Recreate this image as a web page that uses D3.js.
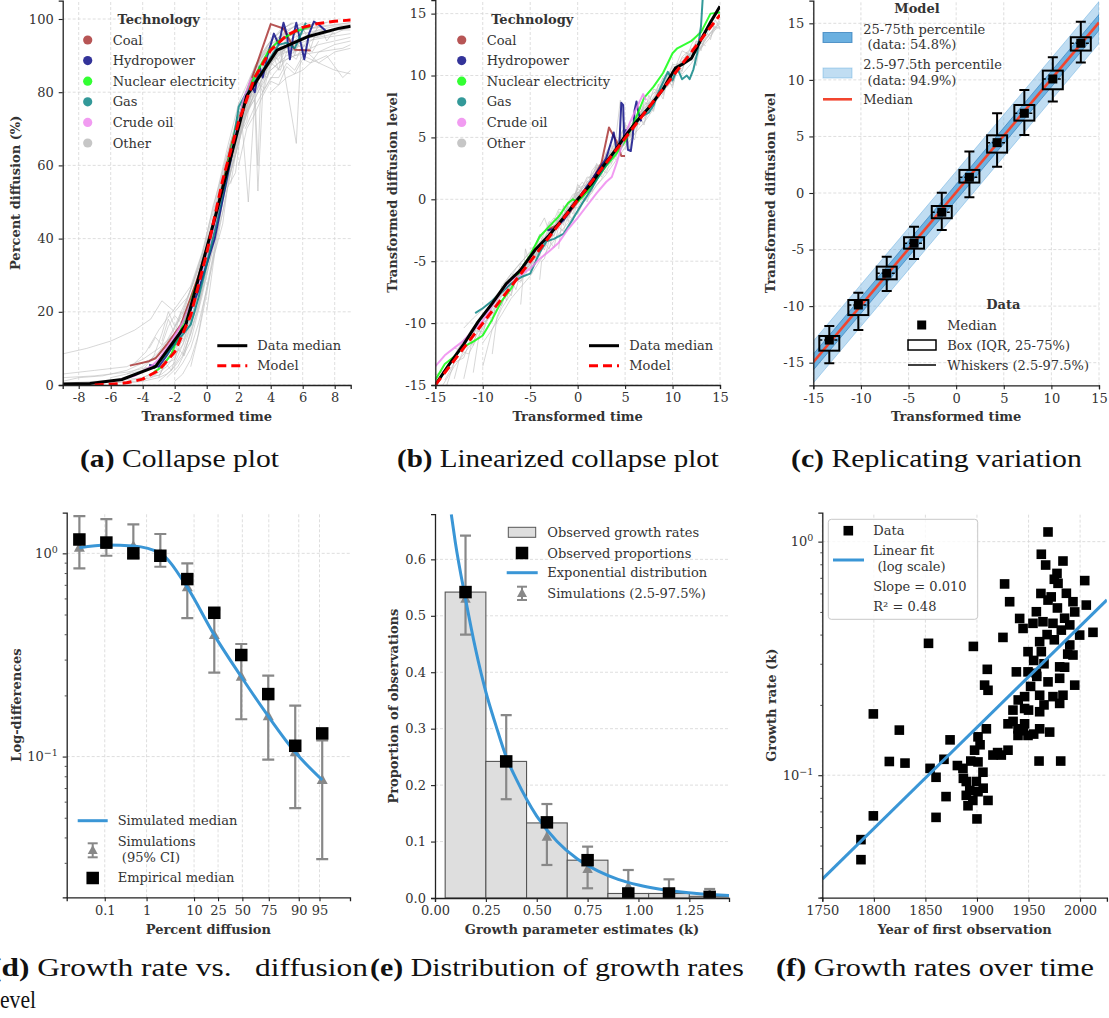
<!DOCTYPE html>
<html><head><meta charset="utf-8">
<script src="https://cdn.jsdelivr.net/npm/d3@7"></script>
<style>
body{margin:0;background:#fff;}
svg{display:block;}
</style></head><body>
<svg id="chart" width="1109" height="1018"></svg>
<script>
// ================= DATA =================
// ---- Panel (a): collapse plot ----
const aMedian = [[-9,0.3],[-7.3,0.4],[-5.3,1.5],[-3.2,5],[-1.3,16.5],[0.6,47],[2.5,79],[4.4,91.5],[6.4,95.3],[8.3,97.5],[9,98]];
const aModel = [[-7,0],[-6,0.2],[-5,0.6],[-4,1.6],[-3,4],[-2,9],[-1,19],[0,36],[1,56],[2,72],[3,84],[4,91.5],[5,95.5],[6,97.7],[7,98.8],[8,99.4],[9,99.7]];
const aCoal = [[-4.8,5.3],[-3.6,6.5],[-3.2,7.3],[-2.5,11],[-1.6,16.5],[-0.5,30],[0.5,45],[1.5,65],[2.5,80],[3.0,86],[4.0,98.6],[4.8,97.4],[5.5,91.6],[6.5,91.4]];
const aHydro = [[-3.6,5.5],[-3.0,5],[-2.5,8],[-1.5,15],[-0.5,26],[0.5,40],[1.2,55],[1.8,68],[2.4,79],[2.8,82],[3.0,80],[3.3,87],[3.5,84],[3.8,90],[4.2,96],[4.5,93],[4.8,99],[5.0,96],[5.2,89],[5.4,95],[5.6,99],[5.9,93],[6.1,89],[6.4,96],[6.7,99.3],[7.0,98.5],[7.5,96.5]];
const aNuclear = [[-3.3,3.5],[-2.8,5],[-2.2,8.5],[-1.2,20],[-0.3,32],[0.8,50],[1.8,70],[2.5,80],[3.2,86],[3.9,91.5],[4.5,94],[5.5,96.5],[6.5,98]];
const aGas = [[-3.3,4.5],[-2.2,10],[-1.0,16.5],[-0.5,24],[0.5,42],[1.5,62],[2.0,76],[2.5,80],[3.5,86],[4.5,93],[5.0,93.5],[5.5,92],[6.2,99]];
const aOil = [[-5.5,1.4],[-4.5,2.5],[-3.5,5],[-3.0,7],[-2.2,12],[-1.5,17],[-0.5,28],[0.5,44],[1.5,63],[2.3,78],[2.8,84]];
const aOther = [
 [[-9,8.5],[-7.5,10],[-6,12],[-4.5,15],[-3.5,18],[-2.8,23],[-2,20],[-1.2,24],[-0.5,32],[0.5,45],[1.5,62],[2.5,75],[3.5,84],[4.5,88],[5.5,90],[7,91],[8.5,92],[9,93]],
 [[-9,3],[-7,4],[-5,5],[-4,7],[-3,10],[-2,14],[-1,22],[0,36],[1,52],[2,68],[3,80],[4,88],[5,93],[6,95],[7,97],[8,96],[9,98]],
 [[-9,1],[-8,2],[-6.5,2.5],[-5,4],[-4,6],[-3,8],[-2.3,13],[-1.5,20],[-0.7,30],[0.2,42],[1,56],[2,73],[2.8,82],[3.6,89],[4.5,94],[5.5,97],[6.5,98.5],[7.5,99]],
 [[-9,0.5],[-7,1],[-5,1.5],[-4,2],[-3,4],[-2,9],[-1,18],[0,34],[0.8,48],[1.6,60],[2.5,74],[3.2,80],[4,86],[5,90],[6,92],[7,88],[8,86],[9,85]],
 [[-6,0.5],[-4.5,1],[-3.5,2],[-2.5,5],[-1.5,11],[-0.5,25],[0.5,43],[1.5,61],[2.5,77],[3.5,88],[4.5,95],[5.5,98],[6.5,99]],
 [[-5,3],[-4,5],[-3,9],[-2.5,12],[-2,16],[-1.5,19],[-1,26],[0,40],[1,58],[2,75],[3,86],[4,93],[5,97],[6,99]],
 [[-3.5,2],[-2.8,3],[-2,6],[-1.2,14],[-0.5,26],[0.3,40],[1.2,58],[2.2,72],[2.6,50],[3,78],[3.8,86],[4.5,90],[5.3,94],[6,92],[6.5,96],[7.5,97]],
 [[-4,4],[-3.3,8],[-2.8,14],[-2.4,20],[-2,16],[-1.4,22],[-0.8,28],[0,38],[1,55],[2,70],[3,82],[3.8,88],[4.6,92],[5.6,66],[5.9,92],[6.8,95],[8,97],[9,97]],
 [[-2.5,2],[-1.8,5],[-1,12],[-0.3,24],[0.5,40],[1.2,55],[1.9,68],[2.5,80],[3.2,88],[4,93],[5,96],[6,98],[7,99]],
 [[-4.5,6],[-3.8,9],[-3,15],[-2.5,18],[-1.8,22],[-1,27],[-0.3,36],[0.5,50],[1.3,65],[2,77],[2.8,85],[3.5,90],[4.3,93],[5,95],[6,97],[7.5,98],[9,99]],
 [[-2,3],[-1.5,6],[-1,10],[-0.5,17],[0,26],[0.6,38],[1.2,52],[1.8,64],[2.4,74],[3.1,85],[3.7,90],[4.5,95],[5.5,98]],
 [[-6,2],[-5,3],[-4,4],[-3.2,6],[-2.6,9],[-2,13],[-1.2,19],[-0.2,33],[0.7,50],[1.5,63],[2.2,73],[3,78],[3.2,53],[3.5,80],[4.2,85],[5,89],[6,91],[7,93],[8,94],[9,95]],
 [[-9,2],[-7,2.5],[-5,3.5],[-3.5,5],[-2.8,7],[-2,11],[-1.2,17],[-0.5,28],[0.2,38],[1,53],[1.8,66],[2.5,77],[3.3,84],[4,89],[5,92],[6.2,94],[7.5,95],[9,96]],
 [[-3,1],[-2.2,4],[-1.5,9],[-0.8,19],[0,33],[0.8,49],[1.6,64],[2.4,76],[3.2,86],[4,92],[4.8,95],[5.8,97.5],[6.8,98.5],[8,99.5]],
 [[-1.5,8],[-1,14],[-0.4,24],[0.2,36],[0.9,50],[1.6,65],[2.3,78],[3,87],[3.8,93],[4.6,97],[5.4,99]],
 [[4,80],[5,84],[6,86],[6.5,88],[7.5,90],[8.5,84],[9,86]],
 [[-9,0.2],[-7,0.5],[-5,1],[-4,2],[-3.2,3.5],[-2.4,7],[-1.6,13],[-0.8,23],[0,37],[0.8,51],[1.6,66],[2.4,78],[3.2,87],[4,92],[5,95],[6,97],[7,98],[8,98.5],[9,99]],
 [[-2.2,10],[-1.6,14],[-1,20],[-0.4,29],[0.3,40],[1,54],[1.5,62],[2.1,74],[2.7,82],[3.3,89],[4,94],[4.7,97],[5.3,99]],
 [[-3,2],[-2.6,6],[-2.2,4],[-1.8,10],[-1.4,8],[-1,15],[-0.6,20],[-0.2,28],[0.2,35],[0.6,46],[1,52],[1.4,60],[1.8,67],[2.2,72],[2.6,78],[3,80],[3.4,85],[3.8,84],[4.2,90],[4.6,88],[5,93],[5.5,91],[6,95]],
 [[-4,1],[-3.5,3],[-3,2.5],[-2.5,6],[-2,7],[-1.5,13],[-1,17],[-0.5,22],[0,30],[0.5,39],[1,47],[1.5,58],[2,66],[2.5,75],[3,82],[3.5,86],[4,89],[4.5,92],[5,94],[6,96],[7,97],[8,98],[9,98.5]],
 [[-2.8,12],[-2.4,18],[-2,14],[-1.6,20],[-1.2,18],[-0.8,26],[-0.4,31],[0,39],[0.4,45],[0.8,53],[1.2,58],[1.6,67],[2,71],[2.4,78],[2.8,81],[3.2,86],[3.6,85],[4,90],[4.4,93],[5,92],[5.5,96],[6,94],[6.5,97]],
 [[-1,5],[-0.6,12],[-0.2,22],[0.2,31],[0.6,40],[1,50],[1.4,57],[1.8,63],[2.2,70],[2.6,76],[3,79],[3.4,83],[3.8,87],[4.2,89],[4.6,92],[5,91],[5.5,94],[6,97],[6.5,95],[7,98]],
 [[-3.6,10],[-3.2,13],[-2.8,11],[-2.4,16],[-2,19],[-1.6,17],[-1.2,22],[-0.8,25],[-0.4,33],[0,41],[0.4,49],[0.8,55],[1.2,62],[1.6,68],[2,74],[2.5,79],[3,81],[3.5,87],[4,88],[4.5,91],[5,93],[6,95],[7,96],[8,97],[9,97.5]],
 [[1.5,55],[2,68],[2.5,72],[3,85],[3.5,80],[4,92],[4.5,86],[5,96],[5.5,90],[6,98],[6.5,92],[7,99],[7.5,94],[8,97]],
 [[2,60],[2.5,70],[3,74],[3.5,79],[4,83],[4.5,82],[5,87],[5.5,85],[6,89],[6.5,88],[7,91],[8,93],[9,94]],
 [[-2,1],[-1.5,3],[-1,7],[-0.5,14],[0,25],[0.5,37],[1,50],[1.5,60],[2,70],[2.5,79],[3,86],[3.5,90],[4,94],[4.5,96],[5,98],[5.5,99]],
 [[-5,0.5],[-4,1],[-3,2],[-2.5,3],[-2,5],[-1.5,8],[-1,14],[-0.5,21],[0,31],[0.5,43],[1,55],[1.5,64],[2,73],[2.5,81],[3,87],[3.5,91],[4,94],[5,96],[6,97],[7,98]],
 [[-3,5],[-2.5,7],[-2,10],[-1.5,12],[-1,17],[-0.5,24],[0,33],[0.5,42],[1,51],[1.5,59],[2,69],[2.5,76],[3,83],[3.5,87],[4,90],[4.5,89],[5,93],[5.5,92],[6,95],[7,95],[8,96]],
 [[0,20],[0.5,36],[1,44],[1.3,54],[1.8,58],[2.2,72],[2.7,76],[3.1,83],[3.6,81],[4,88],[4.6,86],[5,91],[5.6,89],[6,93],[6.6,91],[7,94]],
 [[-1.5,14],[-1,18],[-0.5,25],[0,34],[0.5,48],[1,57],[1.5,66],[2,74],[2.5,78],[3,82],[3.2,60],[3.4,84],[4,88],[4.5,90],[5,91],[6,93]],
 [[2.4,70],[3,76],[3.5,80],[4,84],[4.5,84],[5,88],[5.5,86],[6,90],[7,88],[8,91],[9,92]]
];
const aXTicks = [-8,-6,-4,-2,0,2,4,6,8];
const aYTicks = [0,20,40,60,80,100];

// ---- Panel (b): linearized collapse plot ----
const bMedian = [[-15,-15],[-13.5,-13.3],[-12,-11.7],[-10.5,-9.9],[-9,-8.4],[-7.5,-6.8],[-6,-5.7],[-4.5,-4.1],[-3,-2.9],[-1.5,-1.5],[0,0],[1.5,1.3],[2.8,2.8],[4.0,4.0],[5,5.1],[6,6.1],[7.5,7.4],[9,8.9],[10.3,10.6],[11,10.9],[12,11.4],[13,12.9],[14,14.3],[15,15.6]];
const bModel = [[-15,-15],[15,14.9]];
const bCoal = [[-3.0,-2.4],[-2.2,-2.1],[-1,-1.2],[0.5,0.3],[1.5,1.5],[2.5,2.9],[3.3,5.8],[4.1,4.7],[4.6,3.5],[5.0,3.5]];
const bHydro = [[-3.2,-2.5],[-2.5,-2.4],[-1.5,-1.7],[0,0],[1.5,1.6],[3,3.3],[3.6,4.8],[3.8,5.4],[4.1,4.0],[4.4,4.5],[4.6,7.8],[4.8,7.6],[4.9,4.8],[5.1,5.6],[5.3,4.0],[5.6,3.9],[5.8,5.0],[6.0,7.2],[6.2,7.9],[6.4,7.0],[6.7,6.3]];
const bNuclear = [[-15,-14.6],[-14,-13.3],[-13,-12.7],[-12,-11.9],[-11,-11.5],[-10,-11],[-9,-9.7],[-8,-8.2],[-7,-7.2],[-6,-5.7],[-5,-4.5],[-4,-3.0],[-3,-2.2],[-2,-1.4],[-1,-0.3],[-0.5,0],[0,-0.2],[1,0.6],[2,1.6],[3,2.7],[4,3.6],[5,4.7],[6,6.3],[7,8.2],[8,9.1],[9,10.2],[10,11.8],[10.5,12.2],[12,12.8],[13,13.5],[14,15],[15,15.1]];
const bGas = [[-10.8,-9.2],[-10,-8.8],[-9,-8.2],[-8,-7.5],[-7,-6.8],[-6,-6.3],[-5,-6.0],[-4,-4.3],[-3.3,-3.4],[-2.5,-3.2],[-1.5,-2.8],[-0.5,-1.6],[0.5,-0.3],[1.5,0.9],[2.5,2.2],[3.5,3.3],[4.5,4.5],[5.5,5.6],[6.5,6.6],[7.5,7.0],[8.0,7.6],[8.5,8.6],[9.2,9.8],[9.5,10.3],[10,9.6],[10.5,10.6],[11,9.7],[11.5,10.0],[11.8,9.7],[12.2,10.5],[12.6,11.8],[13,14],[13.2,16.5]];
const bOil = [[-15,-13.5],[-14,-12.6],[-13,-12],[-12,-11.4],[-11,-10.6],[-10,-9.8],[-9,-8.6],[-8,-7.4],[-7,-6.5],[-6,-6.1],[-5,-5.6],[-4,-4.8],[-3,-4.2],[-2,-3.5],[-1,-2.4],[0,-1.5],[1,-0.5],[2,0.5],[3,1.4],[3.6,1.8],[4.1,2.9],[4.7,4.5],[5.5,6.2],[6.1,7.2],[6.9,8.5],[7.2,8.0]];
const bOther = [
 [[-15,-16],[-13,-13.5],[-11,-11.5],[-9,-8.5],[-7,-6.8],[-5,-5.3],[-3,-2.5],[-1,-0.8],[1,1.4],[3,2.6],[5,5.2],[7,6.8],[9,9.3],[11,10.6],[13,13.2],[15,15.5]],
 [[-14,-15.5],[-12.5,-12],[-11,-10.3],[-9.5,-9.8],[-8,-7.5],[-6.5,-5.6],[-5,-4.2],[-3.5,-3.8],[-2,-1.5],[-0.5,0.4],[1,0.8],[2.5,2.9],[4,3.5],[5.5,6.2],[7,7.4],[8.5,8.1],[10,10.3],[11.5,11.6],[13,12.3],[14.5,14.0]],
 [[-13,-12],[-11.5,-12.5],[-10,-10.4],[-8.5,-8.0],[-7,-7.4],[-5.5,-5.0],[-4,-3.4],[-2.5,-2.9],[-1,-0.5],[0.5,0.9],[2,1.6],[3.5,3.9],[5,4.4],[6.5,7.0],[8,7.6],[9.5,9.7],[11,11.4],[12.5,11.8],[14,13.5],[15,14.2]],
 [[-12,-14.5],[-11,-11],[-10,-9.2],[-9,-9.6],[-8,-7],[-7,-6],[-6,-6.4],[-5,-4.6],[-4,-3.6],[-3,-1.8],[-2,-2.4],[-1,-0.4],[0,0.8],[1,0.5],[2,2.4],[3,3.6],[4,3.9],[5,6.0],[6,5.6],[7,7.5],[8,8.6],[9,8.8],[10,10.8],[11,10.4],[12,12.5],[13,13.8],[14,13.2],[15,14.6]],
 [[-10,-13.5],[-9,-10.5],[-8,-8.8],[-7,-7.6],[-6,-5.2],[-5,-5.5],[-4,-4.1],[-3,-3.4],[-2,-1.6],[-1,-1.2],[0,0.2],[1,1.8],[2,1.7],[3,3.1],[4,4.6],[5,4.7],[6,6.5],[7,7.0],[8,8.3],[9,9.5],[10,9.8]],
 [[-9,-12.5],[-8.5,-9.5],[-7.5,-7.5],[-6.5,-6.2],[-5.5,-5.8],[-4.5,-4.6],[-3.5,-3.0],[-2.5,-2.2],[-1.5,-1.9],[-0.5,-0.2],[0.5,0.4],[1.5,1.9],[2.5,2.3],[3.5,3.6],[4.5,5.0],[5.5,5.4],[6.5,6.9],[7.5,7.2],[8.5,8.7],[9.5,9.1],[10.5,10.6],[11.5,11.2],[12.5,12.8],[13.5,12.4]],
 [[-6,-8.5],[-5.5,-4.0],[-5,-5.5],[-4,-3.0],[-3,-4.0],[-2,-1.0],[-1,-1.5],[0,0.6],[1,-0.2],[2,2.0],[3,3.2],[4,4.8],[4.5,8.0],[5,5.3],[6,5.8],[7,7.7],[8,7.8],[9,9.2]],
 [[-4,-2.2],[-3.5,-1.5],[-3,-2.6],[-2,-0.8],[-1,-1.0],[0,0.9],[1,1.2],[2,2.7],[3,2.9],[4,4.2],[5,5.5],[6,6.4],[7,6.5],[8,8.9],[9,8.6],[10,10.1],[11,12.0],[12,11.6]],
 [[-15,-14.2],[-14,-13.8],[-13,-12.6],[-12,-11.3],[-11,-10.9],[-10,-9.4],[-9,-9.1],[-8,-7.8],[-7,-6.6],[-6,-6.0],[-5,-4.9],[-4,-4.2],[-3,-2.7],[-2,-2.1],[-1,-0.9],[0,-0.4],[1,1.0],[2,2.2],[3,3.4],[4,4.1],[5,4.9],[6,6.2],[7,7.1],[8,8.0],[9,8.8],[10,9.6],[11,11.0],[12,11.8],[13,12.6],[14,13.4],[15,14.0]],
 [[8,8.5],[9,9.8],[10,9.2],[11,11.5],[12,12.2],[12.5,10.8],[13,12.9],[14,14.5],[15,15.2]],
 [[-2,-4],[-1.5,-0.5],[-1,-1.8],[0,1.2],[1,0.2],[2,2.9],[3,2.1],[4,4.4],[5,5.9],[6,5.2],[7,7.9],[8,7.3],[9,9.9],[10,10.4]],
 [[-11,-14],[-10.5,-11.5],[-10,-10],[-9,-9.3],[-8,-8.4],[-7,-6.3],[-6,-6.7],[-5,-5.0],[-4,-3.8],[-3,-3.2],[-2,-1.9],[-1,-0.6],[0,-0.7],[1,0.7],[2,1.9]],
 [[3,3.8],[4,3.2],[5,6.2],[5.5,4.0],[6,6.8],[7,6.2],[8,8.2],[9,9.0],[10,10.9],[11,10.8],[12,12.0],[13,12.2],[14,14.0],[15,13.8]],
 [[-14,-14.6],[-13,-13.2],[-12,-12.8],[-11,-10.6],[-10,-10.7],[-9,-8.7],[-8,-8.2],[-7,-7.0],[-6,-5.5],[-5,-5.2],[-4,-3.9],[-3,-3.1],[-2,-1.7],[-1,-1.4],[0,0.1],[1,0.9],[2,2.3],[3,2.8],[4,4.0],[5,5.2],[6,5.9],[7,7.3],[8,8.1],[9,9.4],[10,9.9],[11,11.2]],
 [[-8,-7],[-7.5,-8.2],[-7,-6.5],[-6.5,-7.3],[-6,-5.8],[-5.5,-6.2],[-5,-4.6],[-4.5,-5.3],[-4,-3.5],[-3.5,-4.1],[-3,-2.6],[-2.5,-3.0],[-2,-1.4],[-1.5,-2.1],[-1,-0.6],[-0.5,-1.2],[0,0.4],[0.5,0.0],[1,1.5],[1.5,0.9],[2,2.6],[2.5,2.0],[3,3.7],[3.5,3.1],[4,4.6],[4.5,4.0],[5,5.7],[5.5,5.0],[6,6.5],[6.5,6.0],[7,7.6]],
 [[-13,-14.5],[-12.5,-13],[-12,-12.2],[-11.5,-11],[-11,-11.8],[-10.5,-10.4],[-10,-11],[-9.5,-9.3],[-9,-9.9],[-8.5,-8.1],[-8,-8.6],[-7.5,-7.3],[-7,-7.8],[-6.5,-6.1],[-6,-6.6],[-5.5,-5.2],[-5,-5.8],[-4.5,-4.2],[-4,-4.6],[-3.5,-3.2]],
 [[-5,-4],[-4.5,-3.8],[-4,-2.8],[-3.5,-3.3],[-3,-2.0],[-2.5,-1.5],[-2,-1.9],[-1.5,-0.7],[-1,-0.2],[-0.5,-0.8],[0,0.9],[0.5,1.4],[1,0.8],[1.5,2.3],[2,2.8],[2.5,2.2],[3,3.8],[3.5,4.4],[4,3.7],[4.5,5.3],[5,5.8],[5.5,5.1],[6,6.7]],
 [[0,-1.2],[0.5,-0.4],[1,0.1],[1.5,0.5],[2,1.2],[2.5,1.6],[3,2.4],[3.5,2.8],[4,3.5],[4.5,3.9],[5,4.6],[5.5,5.0],[6,5.8],[6.5,6.3],[7,6.9],[7.5,7.5],[8,7.9],[8.5,8.4],[9,9.0],[9.5,9.4],[10,10.1]],
 [[-4,-6.5],[-3.8,-5],[-3.5,-4.8],[-3,-3.3],[-2.5,-3.9],[-2,-2.2],[-1.5,-2.6],[-1,-1.2],[-0.5,-1.7],[0,0],[0.5,-0.4],[1,1.1],[1.5,0.6],[2,2.2],[2.5,1.8],[3,3.4],[3.5,2.9],[4,4.3],[4.5,4.1],[5,5.4]],
 [[6,6.2],[6.5,7.5],[7,6.8],[7.5,8.4],[8,7.6],[8.5,9.3],[9,8.4],[9.5,10.2],[10,9.4],[10.5,11],[11,10.3],[11.5,11.9],[12,11.2],[12.5,12.8],[13,12.0],[13.5,13.6],[14,12.9],[14.5,14.5],[15,13.8]],
 [[5,4.0],[5.5,5.4],[6,4.8],[6.5,6.6],[7,6.0],[7.5,7.9],[8,7.1],[8.5,8.8],[9,8.1],[9.5,9.8],[10,9.0],[10.5,10.8],[11,10.1],[12,11.0],[13,12.2],[14,13.1],[15,14.4]],
 [[-12,-10.4],[-11,-9.6],[-10,-8.9],[-9,-8.1],[-8,-7.2],[-7,-6.0],[-6,-5.1],[-5,-4.3],[-4,-3.2],[-3,-2.1],[-2,-1.3],[-1,-0.3],[0,0.5],[1,1.6],[2,2.5],[3,3.4]],
 [[-10,-11.6],[-9,-10.5],[-8,-9.3],[-7,-8.0],[-6,-7.1],[-5,-6.2],[-4,-5.0],[-3,-3.9],[-2,-2.8],[-1,-1.9],[0,-0.9],[1,0.2],[2,1.1],[3,2.0],[4,3.1],[5,4.2],[6,5.3],[7,6.2],[8,7.3]]
];
const bTicks = [-15,-10,-5,0,5,10,15];

// ---- Panel (c): replicating variation ----
const cX   = [-13.32,-10.27,-7.29,-4.42,-1.51,1.39,4.30,7.16,10.15,13.09];
const cMed = [-13.0,-9.9,-7.1,-4.44,-1.7,1.39,4.45,7.05,10.08,13.24];
const cQ1  = [-13.94,-10.79,-7.63,-4.92,-2.23,0.92,3.57,6.40,9.17,12.59];
const cQ3  = [-12.64,-9.46,-6.51,-3.91,-1.15,2.04,5.1,7.78,10.82,13.77];
const cLo  = [-15.05,-12.11,-8.66,-5.83,-3.27,-0.38,2.33,5.13,8.08,11.53];
const cHi  = [-11.76,-8.81,-5.63,-2.98,0.03,3.66,7.05,9.11,12.0,15.15];
const cModelX   = [-15,15];
const cModelMed = [-14.95,15.08];
const cModelLo50 = [-15.65,14.38], cModelHi50 = [-14.25,15.78];
const cModelLo95 = [-16.8,13.23],  cModelHi95 = [-13.1,16.93];

// ---- Panel (d): growth rate vs diffusion level ----
const dBin = [0,1,2,3,4,5,6,7,8,9];
const dEmpMedian = [1.17,1.13,1.0,0.973,0.747,0.51,0.316,0.203,0.113,0.130];
const dSimMedian = [1.065,1.098,1.086,1.0,0.68,0.396,0.247,0.158,0.105,0.0767];
const dSimLow  = [0.844,0.973,0.95,0.859,0.48,0.259,0.1526,0.0966,0.0557,0.0313];
const dSimHigh = [1.525,1.475,1.39,1.245,0.893,0.53,0.358,0.25,0.178,0.12];
const dTickPos = [0.94,2.49,4.25,5.14,6.04,7.02,8.13,8.90];
const dTickLab = ['0.1','1','10','25','50','75','90','95'];

// ---- Panel (e): distribution of growth rates ----
const eBinStart = [0.05,0.25,0.45,0.65,0.85,1.05,1.25];
const eBinEnd   = [0.25,0.45,0.65,0.85,1.05,1.25,1.45];
const eBinMid   = [0.15,0.35,0.55,0.75,0.95,1.15,1.35];
const eBar  = [0.542,0.242,0.133,0.067,0.008,0.008,0.003];
const eObs  = [0.542,0.242,0.134,0.067,0.008,0.008,0.002];
const eSim  = [0.53,0.24,0.108,0.051,0.02,0.01,0.005];
const eSimLow  = [0.4665,0.175,0.0585,0.0172,0,0,0];
const eSimHigh = [0.642,0.324,0.1665,0.091,0.0496,0.0331,0.016];
const eExpX = [0.08,0.1,0.15,0.2,0.25,0.3,0.35,0.4,0.5,0.6,0.7,0.8,0.9,1.0,1.1,1.2,1.3,1.45];
const eExpY = [0.68,0.63,0.53,0.44,0.365,0.305,0.25,0.21,0.145,0.10,0.069,0.048,0.033,0.023,0.016,0.011,0.0075,0.0043];
const eXTicks = [0,0.25,0.5,0.75,1.0,1.25];
const eYTicks = [0,0.1,0.2,0.3,0.4,0.5,0.6];

// ---- Panel (f): growth rates over time ----
const fYear = [1853,1896.5,1799.5,1824.7,1815,1830.2,1873.9,1868,1854.5,1860.3,1881,1886.8,1870,1860.3,1799.5,1787.5,1787.5,
 1968.9,1962.4,1966.6,1983.4,1977.6,1926.8,2004.5,1978.6,1986.7,1968.9,1931.7,1993.1,2006,1957.6,1994.8,1941.4,1964,1973.7,1944.7,1954.3,1981.8,1999.6,1925.2,2012.5,1960.8,1990,1949.5,1962.4,1993.1,1980.2,1910,1938.2,1949.5,1957.6,1968.9,1980.2,1907.4,1910.7,1994.8,1946.2,1960.8,1973.7,1983.4,1980.2,1960.8,1934.9,1946.2,1930.1,1939.8,1946.2,1939.8,1949.5,1960.8,1970.5,1909.1,1901,1915.5,1930.1,1923.6,1897.7,1901,1905.8,1886.4,1889.6,1899.4,1889.6,1901,1910.7,1891.3,1900,1960.2,1981.2,
 1955,1965,1975,1985,1990,1972,1978,1988,1952,1965,1940,1950,1935,1945,1955,1920,1894,1903,1893,1896,1906,1962,1975,1968,1985,1958];
const fK = [0.367,0.356,0.183,0.156,0.1145,0.1127,0.1417,0.117,0.107,0.098,0.110,0.097,0.081,0.066,0.067,0.053,0.0435,
 1.10,0.883,0.794,0.826,0.731,0.659,0.681,0.663,0.601,0.562,0.553,0.553,0.535,0.501,0.50,0.469,0.454,0.447,0.425,0.447,0.418,0.398,0.389,0.409,0.373,0.361,0.338,0.338,0.327,0.291,0.284,0.277,0.277,0.273,0.251,0.26,0.243,0.231,0.243,0.217,0.22,0.217,0.22,0.203,0.187,0.19,0.193,0.166,0.158,0.166,0.148,0.148,0.158,0.153,0.158,0.146,0.122,0.128,0.122,0.128,0.114,0.103,0.107,0.094,0.094,0.082,0.085,0.078,0.074,0.065,0.115,0.115,
 0.31,0.30,0.38,0.47,0.44,0.58,0.52,0.33,0.24,0.20,0.21,0.19,0.17,0.155,0.15,0.125,0.115,0.135,0.086,0.078,0.088,0.60,0.69,0.40,0.29,0.265];
const fFitYear = [1750,2026];
const fFitK = [0.0359,0.563];
const fXTicks = [1750,1800,1850,1900,1950,2000];

// ================= DRAWING =================
const svg = d3.select('#chart');
const FONT = '"DejaVu Serif", serif';
const CAPFONT = '"Liberation Serif", "Times New Roman", serif';
const GRID = '#d6d6d6';
const TXT = '#333';
const BLUE = '#3a96d6';
const GREYBAR = '#888';
const techColors = {Coal:'#a52a2a', Hydropower:'#000080', 'Nuclear electricity':'#00ff00', Gas:'#008080', 'Crude oil':'#ee82ee', Other:'#c0c0c0'};
let clipId = 0;

function panel(x, y) {
  const g = svg.append('g');
  const [x0,x1] = x.range(), [y0,y1] = y.range();
  const id = 'clip' + (clipId++);
  g.append('clipPath').attr('id', id).append('rect')
    .attr('x', x0).attr('y', Math.min(y0,y1)).attr('width', x1-x0).attr('height', Math.abs(y0-y1));
  const grid = g.append('g');
  const data = g.append('g').attr('clip-path', `url(#${id})`);
  const over = g.append('g');
  return {g, grid, data, over, x, y};
}
function gridLines(p, xs, ys) {
  const [x0,x1] = p.x.range(), [y0,y1] = p.y.range();
  p.grid.selectAll(null).data(xs).join('line')
    .attr('x1', d=>p.x(d)).attr('x2', d=>p.x(d)).attr('y1', y0).attr('y2', y1)
    .attr('stroke', GRID).attr('stroke-width', 0.8).attr('stroke-dasharray', '3,2');
  p.grid.selectAll(null).data(ys).join('line')
    .attr('y1', d=>p.y(d)).attr('y2', d=>p.y(d)).attr('x1', x0).attr('x2', x1)
    .attr('stroke', GRID).attr('stroke-width', 0.8).attr('stroke-dasharray', '3,2');
}
function styleAxis(a) {
  a.select('.domain').attr('stroke', '#222').attr('stroke-width', 1.3);
  a.selectAll('.tick line').attr('stroke', '#222').attr('stroke-width', 1.1);
  a.selectAll('.tick text').attr('font-family', FONT).attr('font-size', 13).attr('fill', TXT);
}
function axes(p, o) {
  const [x0] = p.x.range(), [y0] = p.y.range();
  const ax = p.over.append('g').attr('transform', `translate(0,${y0})`)
    .call(d3.axisBottom(p.x).tickValues(o.xt).tickFormat(o.xf || (d=>String(d))).tickSizeOuter(0).tickSize(4).tickPadding(4));
  const ay = p.over.append('g').attr('transform', `translate(${x0},0)`)
    .call(d3.axisLeft(p.y).tickValues(o.yt).tickFormat(o.yf || (d=>String(d))).tickSizeOuter(0).tickSize(4).tickPadding(5));
  styleAxis(ax); styleAxis(ay);
  if (o.yMinor) {
    const am = p.over.append('g').attr('transform', `translate(${x0},0)`)
      .call(d3.axisLeft(p.y).tickValues(o.yMinor).tickFormat('').tickSizeOuter(0).tickSize(2));
    am.select('.domain').remove();
    am.selectAll('.tick line').attr('stroke', '#222').attr('stroke-width', 0.8);
  }
  if (o.logLabels) {
    ay.selectAll('.tick text').each(function(d) {
      const e = Math.round(Math.log10(d));
      const t = d3.select(this);
      t.text('10');
      t.append('tspan').attr('dy', '-0.55em').attr('font-size', 9.5).text(e === 0 ? '0' : '\u2212' + Math.abs(e));
    });
  }
  const [xa, xb] = p.x.range(), [ya, yb] = p.y.range();
  p.over.append('text').attr('x', (xa+xb)/2).attr('y', o.xlabY)
    .attr('text-anchor', 'middle').attr('dominant-baseline', 'central')
    .attr('font-family', FONT).attr('font-weight', 'bold').attr('font-size', 13).attr('fill', TXT).text(o.xlab);
  p.over.append('text').attr('transform', `translate(${o.ylabX},${(ya+yb)/2}) rotate(-90)`)
    .attr('text-anchor', 'middle').attr('dominant-baseline', 'central')
    .attr('font-family', FONT).attr('font-weight', 'bold').attr('font-size', 13).attr('fill', TXT).text(o.ylab);
}
function txt(g, x, y, s, opt={}) {
  return g.append('text').attr('x', x).attr('y', y).attr('dominant-baseline', 'central')
    .attr('font-family', FONT).attr('font-size', opt.size || 13).attr('fill', opt.fill || TXT)
    .attr('font-weight', opt.bold ? 'bold' : null).attr('text-anchor', opt.anchor || 'start')
    .attr('xml:space', 'preserve').text(s);
}
function polyline(p, pts, stroke, w, opt={}) {
  const line = d3.line().x(d=>p.x(d[0])).y(d=>p.y(d[1])).curve(opt.curve || d3.curveLinear);
  return p.data.append('path').attr('d', line(pts)).attr('fill', 'none')
    .attr('stroke', stroke).attr('stroke-width', w).attr('stroke-opacity', opt.op == null ? 1 : opt.op)
    .attr('stroke-dasharray', opt.dash || null).attr('stroke-linejoin', 'round');
}
function techLegend(p, cx, tx, titleX) {
  txt(p.over, titleX, 19.3, 'Technology', {bold:true, anchor:'middle'});
  Object.keys(techColors).forEach((k, i) => {
    const yy = 40 + i * 20.6;
    p.over.append('circle').attr('cx', cx).attr('cy', yy).attr('r', 4.6).attr('fill', techColors[k]).attr('fill-opacity', k === 'Other' ? 0.9 : 0.8);
    txt(p.over, tx, yy, k);
  });
}
function medianLegend(p, lx, tx) {
  p.over.append('line').attr('x1', lx).attr('x2', lx+30).attr('y1', 345.7).attr('y2', 345.7).attr('stroke', '#000').attr('stroke-width', 3);
  p.over.append('line').attr('x1', lx).attr('x2', lx+30).attr('y1', 365.7).attr('y2', 365.7).attr('stroke', '#ff0000').attr('stroke-width', 3).attr('stroke-dasharray', '9,5');
  txt(p.over, tx, 345.7, 'Data median');
  txt(p.over, tx, 365.7, 'Model');
}

// ---------- (a) ----------
{
  const x = d3.scaleLinear().domain([-9, 9]).range([62.7, 350.7]);
  const y = d3.scaleLinear().domain([0, 105]).range([385, 0.7]);
  const p = panel(x, y);
  gridLines(p, aXTicks, aYTicks);
  aOther.forEach(l => polyline(p, l, '#bdbdbd', 1, {op:0.6}));
  polyline(p, aCoal, techColors.Coal, 2, {op:0.8});
  polyline(p, aHydro, techColors.Hydropower, 2, {op:0.8});
  polyline(p, aNuclear, techColors['Nuclear electricity'], 2, {op:0.8});
  polyline(p, aGas, techColors.Gas, 2, {op:0.8});
  polyline(p, aOil, techColors['Crude oil'], 2, {op:0.8});
  polyline(p, aMedian, '#000', 3);
  polyline(p, aModel, '#ff0000', 3, {dash:'9,5'});
  axes(p, {xt:aXTicks, yt:aYTicks, xlab:'Transformed time', ylab:'Percent diffusion (%)', xlabY:416, ylabX:15});
  techLegend(p, 87.7, 112.7, 158.7);
  medianLegend(p, 217.3, 257.3);
}
// ---------- (b) ----------
{
  const x = d3.scaleLinear().domain([-15, 15]).range([435.3, 720]);
  const y = d3.scaleLinear().domain([-15, 16.1]).range([385, 0]);
  const p = panel(x, y);
  gridLines(p, bTicks, bTicks);
  bOther.forEach(l => polyline(p, l, '#bdbdbd', 1, {op:0.6}));
  polyline(p, bCoal, techColors.Coal, 2, {op:0.8});
  polyline(p, bHydro, techColors.Hydropower, 2, {op:0.8});
  polyline(p, bNuclear, techColors['Nuclear electricity'], 2, {op:0.8});
  polyline(p, bGas, techColors.Gas, 2, {op:0.8});
  polyline(p, bOil, techColors['Crude oil'], 2, {op:0.8});
  polyline(p, bMedian, '#000', 3);
  polyline(p, bModel, '#ff0000', 3, {dash:'9,5'});
  axes(p, {xt:bTicks, yt:bTicks, xlab:'Transformed time', ylab:'Transformed diffusion level', xlabY:416, ylabX:392.7});
  techLegend(p, 461.7, 486.7, 532.3);
  medianLegend(p, 589, 629.3);
}
// ---------- (c) ----------
{
  const x = d3.scaleLinear().domain([-15, 15]).range([813.3, 1099]);
  const y = d3.scaleLinear().domain([-17, 17]).range([385.3, 0.7]);
  const p = panel(x, y);
  gridLines(p, bTicks, bTicks);
  const area = (lo, hi) => d3.area().x((d,i)=>x(cModelX[i])).y0((d,i)=>y(lo[i])).y1((d,i)=>y(hi[i]))(cModelX);
  p.data.append('path').attr('d', area(cModelLo95, cModelHi95)).attr('fill', BLUE).attr('fill-opacity', 0.32).attr('stroke', BLUE).attr('stroke-opacity', 0.35).attr('stroke-width', 1);
  p.data.append('path').attr('d', area(cModelLo50, cModelHi50)).attr('fill', BLUE).attr('fill-opacity', 0.6).attr('stroke', '#2a78b8').attr('stroke-opacity', 0.6).attr('stroke-width', 1);
  p.data.append('path').attr('d', d3.line()(cModelX.map((v,i)=>[x(v), y(cModelMed[i])]))).attr('stroke', '#f2452f').attr('stroke-width', 2.6).attr('fill', 'none');
  const bw = 2.1, cw = 1.05;
  cX.forEach((cx, i) => {
    const g = p.data.append('g');
    g.append('line').attr('x1', x(cx)).attr('x2', x(cx)).attr('y1', y(cHi[i])).attr('y2', y(cQ3[i])).attr('stroke', '#000').attr('stroke-width', 2);
    g.append('line').attr('x1', x(cx)).attr('x2', x(cx)).attr('y1', y(cQ1[i])).attr('y2', y(cLo[i])).attr('stroke', '#000').attr('stroke-width', 2);
    [cHi[i], cLo[i]].forEach(v => g.append('line').attr('x1', x(cx-cw/2)).attr('x2', x(cx+cw/2)).attr('y1', y(v)).attr('y2', y(v)).attr('stroke', '#000').attr('stroke-width', 2));
    g.append('rect').attr('x', x(cx-bw/2)).attr('y', y(cQ3[i])).attr('width', x(cx+bw/2)-x(cx-bw/2)).attr('height', y(cQ1[i])-y(cQ3[i]))
      .attr('fill', 'none').attr('stroke', '#000').attr('stroke-width', 2);
    g.append('line').attr('x1', x(cx-bw/2)).attr('x2', x(cx+bw/2)).attr('y1', y(cMed[i])).attr('y2', y(cMed[i])).attr('stroke', '#000').attr('stroke-width', 1.5).attr('stroke-dasharray', '3,2');
    g.append('rect').attr('x', x(cx)-4.5).attr('y', y(cMed[i])-4.5).attr('width', 9).attr('height', 9).attr('fill', '#000');
  });
  axes(p, {xt:bTicks, yt:bTicks, xlab:'Transformed time', ylab:'Transformed diffusion level', xlabY:416, ylabX:770.7});
  // legends
  txt(p.over, 917, 8.5, 'Model', {bold:true, anchor:'middle'});
  p.over.append('rect').attr('x', 823).attr('y', 32.5).attr('width', 29).attr('height', 10).attr('fill', BLUE).attr('fill-opacity', 0.75).attr('stroke', '#2a78b8').attr('stroke-opacity', 0.7);
  p.over.append('rect').attr('x', 823).attr('y', 68).attr('width', 29).attr('height', 10).attr('fill', BLUE).attr('fill-opacity', 0.32).attr('stroke', BLUE).attr('stroke-opacity', 0.35);
  p.over.append('line').attr('x1', 823).attr('x2', 852).attr('y1', 99.3).attr('y2', 99.3).attr('stroke', '#f2452f').attr('stroke-width', 2.6);
  txt(p.over, 863.3, 29, '25-75th percentile');
  txt(p.over, 863.3, 44.3, ' (data: 54.8%)');
  txt(p.over, 863.3, 64.7, '2.5-97.5th percentile');
  txt(p.over, 863.3, 80, ' (data: 94.9%)');
  txt(p.over, 863.3, 99.3, 'Median');
  txt(p.over, 1003.3, 304.3, 'Data', {bold:true, anchor:'middle'});
  p.over.append('rect').attr('x', 921.7-4.5).attr('y', 325-4.5).attr('width', 9).attr('height', 9).attr('fill', '#000');
  p.over.append('rect').attr('x', 908).attr('y', 340).attr('width', 28).attr('height', 10).attr('fill', 'none').attr('stroke', '#000').attr('stroke-width', 1.5);
  p.over.append('line').attr('x1', 908).attr('x2', 936).attr('y1', 365).attr('y2', 365).attr('stroke', '#000').attr('stroke-width', 1.5);
  txt(p.over, 947.3, 325, 'Median');
  txt(p.over, 947.3, 345, 'Box (IQR, 25-75%)');
  txt(p.over, 947.3, 365, 'Whiskers (2.5-97.5%)');
}
// markers helpers
function square(g, cx, cy, s, fill) {
  g.append('rect').attr('x', cx-s/2).attr('y', cy-s/2).attr('width', s).attr('height', s).attr('fill', fill);
}
function triangle(g, cx, cy, s, fill) {
  const h = s * 0.9;
  g.append('path').attr('d', `M${cx},${cy-h*0.6}L${cx+s/2},${cy+h*0.4}L${cx-s/2},${cy+h*0.4}Z`).attr('fill', fill);
}
function errbar(g, cx, y1, y2, cap, color, w) {
  g.append('line').attr('x1', cx).attr('x2', cx).attr('y1', y1).attr('y2', y2).attr('stroke', color).attr('stroke-width', w);
  [y1, y2].forEach(v => g.append('line').attr('x1', cx-cap/2).attr('x2', cx+cap/2).attr('y1', v).attr('y2', v).attr('stroke', color).attr('stroke-width', w));
}
// ---------- (d) ----------
{
  const x = d3.scaleLinear().domain([-0.47, 10.03]).range([66.7, 350]);
  const y = d3.scaleLog().domain([0.0203, 1.585]).range([897.3, 512.7]);
  const p = panel(x, y);
  gridLines(p, dTickPos, [0.1, 1]);
  dBin.forEach((b, i) => errbar(p.data, x(b), y(dSimLow[i]), y(dSimHigh[i]), 12, GREYBAR, 2.2));
  dBin.forEach((b, i) => triangle(p.data, x(b), y(dSimMedian[i]), 11, GREYBAR));
  p.data.append('path').attr('d', d3.line().x((d,i)=>x(dBin[i])).y(d=>y(d)).curve(d3.curveMonotoneX)(dSimMedian))
    .attr('fill', 'none').attr('stroke', BLUE).attr('stroke-width', 3);
  dBin.forEach((b, i) => square(p.data, x(b), y(dEmpMedian[i]), 12.5, '#000'));
  const minor = [];
  [0.01, 0.1].forEach(dec => { for (let m = 2; m <= 9; m++) { const v = m*dec; if (v > 0.0203 && v < 1.585) minor.push(v); } });
  axes(p, {xt:dTickPos, xf:(d,i)=>dTickLab[i], yt:[0.1, 1], yMinor:minor, logLabels:true,
    xlab:'Percent diffusion', ylab:'Log-differences', xlabY:929, ylabX:16});
  p.over.append('line').attr('x1', 77.7).attr('x2', 107.7).attr('y1', 820.7).attr('y2', 820.7).attr('stroke', BLUE).attr('stroke-width', 3);
  errbar(p.over, 92.7, 843.3, 857.3, 10, GREYBAR, 2);
  triangle(p.over, 92.7, 850.5, 10, GREYBAR);
  square(p.over, 92.7, 878, 12.5, '#000');
  txt(p.over, 117.7, 820.7, 'Simulated median');
  txt(p.over, 117.7, 841.7, 'Simulations');
  txt(p.over, 117.7, 857.3, ' (95% CI)');
  txt(p.over, 117.7, 877.7, 'Empirical median');
}
// ---------- (e) ----------
{
  const x = d3.scaleLinear().domain([0, 1.445]).range([435, 729]);
  const y = d3.scaleLinear().domain([0, 0.68]).range([898, 514.2]);
  const p = panel(x, y);
  gridLines(p, [], eYTicks.slice(1));
  eBar.forEach((v, i) => p.data.append('rect').attr('x', x(eBinStart[i])).attr('y', y(v))
    .attr('width', x(eBinEnd[i]) - x(eBinStart[i])).attr('height', y(0) - y(v))
    .attr('fill', '#dedede').attr('stroke', '#555').attr('stroke-width', 1.1));
  eBinMid.forEach((m, i) => errbar(p.data, x(m), y(eSimLow[i]), y(eSimHigh[i]), 11, GREYBAR, 2.2));
  eBinMid.forEach((m, i) => triangle(p.data, x(m), y(eSim[i]), 10.5, GREYBAR));
  p.data.append('path').attr('d', d3.line().x((d,i)=>x(eExpX[i])).y(d=>y(d)).curve(d3.curveMonotoneX)(eExpY))
    .attr('fill', 'none').attr('stroke', BLUE).attr('stroke-width', 3);
  eBinMid.forEach((m, i) => square(p.data, x(m), y(eObs[i]), 12.5, '#000'));
  axes(p, {xt:eXTicks, xf:d3.format('.2f'), yt:eYTicks, yf:d3.format('.1f'),
    xlab:'Growth parameter estimates (k)', ylab:'Proportion of observations', xlabY:929, ylabX:393.3});
  p.over.append('rect').attr('x', 508.3).attr('y', 527.3).attr('width', 27.4).attr('height', 10).attr('fill', '#dedede').attr('stroke', '#555');
  square(p.over, 522, 553, 12.5, '#000');
  p.over.append('line').attr('x1', 506.7).attr('x2', 537.7).attr('y1', 572.7).attr('y2', 572.7).attr('stroke', BLUE).attr('stroke-width', 3);
  errbar(p.over, 522, 586.7, 600, 10, GREYBAR, 2);
  triangle(p.over, 522, 593.5, 10, GREYBAR);
  txt(p.over, 547.3, 532.3, 'Observed growth rates');
  txt(p.over, 547.3, 553, 'Observed proportions');
  txt(p.over, 547.3, 572.7, 'Exponential distribution');
  txt(p.over, 547.3, 593.3, 'Simulations (2.5-97.5%)');
}
// ---------- (f) ----------
{
  const x = d3.scaleLinear().domain([1750, 2026]).range([822.3, 1106.9]);
  const y = d3.scaleLog().domain([0.0299, 1.33]).range([897.7, 512.7]);
  const p = panel(x, y);
  gridLines(p, fXTicks, [0.1, 1]);
  fYear.forEach((yr, i) => square(p.data, x(yr), y(fK[i]), 9.6, '#000'));
  p.data.append('path').attr('d', d3.line().x((d,i)=>x(fFitYear[i])).y(d=>y(d))(fFitK))
    .attr('fill', 'none').attr('stroke', BLUE).attr('stroke-width', 3);
  const minor = [];
  [0.01, 0.1].forEach(dec => { for (let m = 2; m <= 9; m++) { const v = m*dec; if (v > 0.0299 && v < 1.33) minor.push(v); } });
  axes(p, {xt:fXTicks, yt:[0.1, 1], yMinor:minor, logLabels:true,
    xlab:'Year of first observation', ylab:'Growth rate (k)', xlabY:929, ylabX:771.7});
  p.over.append('rect').attr('x', 828.3).attr('y', 519.3).attr('width', 149.4).attr('height', 100).attr('rx', 3)
    .attr('fill', '#fff').attr('fill-opacity', 0.8).attr('stroke', '#c8c8c8');
  square(p.over, 848.3, 530.7, 9.6, '#000');
  p.over.append('line').attr('x1', 833).attr('x2', 864).attr('y1', 560).attr('y2', 560).attr('stroke', BLUE).attr('stroke-width', 3);
  txt(p.over, 873.3, 530.7, 'Data');
  txt(p.over, 873.3, 550.7, 'Linear fit');
  txt(p.over, 873.3, 566, ' (log scale)');
  txt(p.over, 873.3, 586.7, 'Slope = 0.010');
  txt(p.over, 873.3, 606.7, 'R\u00b2 = 0.48');
}
// ---------- captions ----------
function caption(label, rest, x0, width, base) {
  const t = svg.append('text').attr('x', 0).attr('y', 0).attr('font-family', CAPFONT).attr('font-size', 26).attr('fill', '#111').attr('xml:space', 'preserve');
  if (label) t.append('tspan').attr('font-weight', 'bold').text(label);
  t.append('tspan').text(rest);
  const w = t.node().getComputedTextLength();
  t.attr('transform', `translate(${x0},${base}) scale(${width / w},1)`);
}
caption('(a)', ' Collapse plot', 80, 199, 467);
caption('(b)', ' Linearized collapse plot', 397, 322, 467);
caption('(c)', ' Replicating variation', 791, 291, 467);
caption('(d)', ' Growth rate vs.   diffusion', -9, 377, 976);
caption('', 'level', -6, 42, 1008);
caption('(e)', ' Distribution of growth rates', 370, 374, 976);
caption('(f)', ' Growth rates over time', 776, 318, 976);
</script>
</body></html>
